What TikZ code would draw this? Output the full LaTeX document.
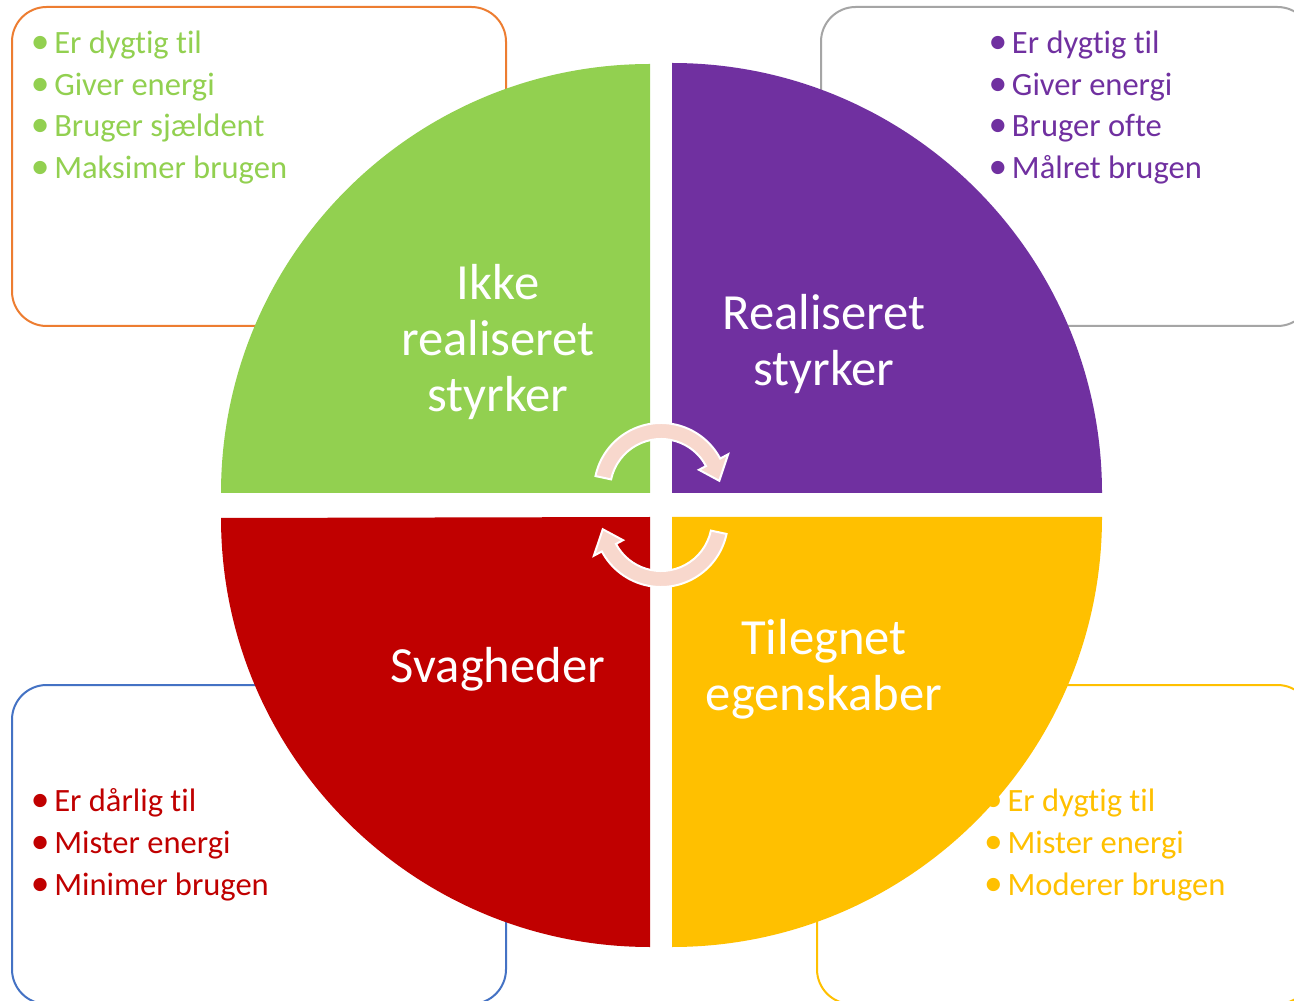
\documentclass[tikz,border=0pt]{standalone}
\usepackage{fontspec}
\setmainfont{Carlito}[Ligatures=NoCommon]
\usetikzlibrary{calc}
\definecolor{cgreen}{HTML}{92D050}
\definecolor{cpurple}{HTML}{7030A0}
\definecolor{cred}{HTML}{C00000}
\definecolor{cyellow}{HTML}{FFC000}
\definecolor{corange}{HTML}{ED7D31}
\definecolor{cgray}{HTML}{A5A5A5}
\definecolor{cblue}{HTML}{4472C4}
\definecolor{cpink}{HTML}{F8D8CD}
% list bullet: slightly enlarged dot, then a fixed gap to the text
\newcommand\bulletmark{\makebox[15pt][l]{\hspace{-2.5pt}\scalebox{1.15}{\textbullet}}}
\begin{document}
\begin{tikzpicture}[x=0.75pt,y=0.75pt,
  frame/.style={line width=1.5pt, rounded corners=26pt},
  lbl/.style={text=white, inner sep=0pt, anchor=base, font=\fontsize{38}{42}\selectfont},
  lst/.style={inner sep=0pt, anchor=base west, font=\fontsize{24.4}{31.35}\selectfont},
  turn/.style={fill=cpink, draw=white, line width=1.5pt, line join=miter}]
\useasboundingbox (0,0) rectangle (1294,1000);
\clip (0,0) rectangle (1294,1000);
\fill[white] (0,0) rectangle (1294,1000);

% frames behind the circle
\draw[frame, draw=corange] (12,674) rectangle (506,993);
\draw[frame, draw=cgray]   (821,674) rectangle (1312,993);
\draw[frame, draw=cblue]   (12,-4) rectangle (506,315);
\draw[frame, draw=cyellow] (817,-4) rectangle (1312,315);

% the four quarter discs
\fill[cgreen]  (650,507) -- (221,507) arc (180:90:429) -- cycle;
\fill[cpurple] (672,507) -- (672,937) arc (90:0:430) -- cycle;
\fill[cred]    (650,483) -- (650,53) arc (270:180:429) -- cycle;
\fill[cyellow] (672,483) -- (1102,483) arc (0:-90:430) -- cycle;

% bullet lists
\node[lst, text=cgreen] (ltl) at (34,946.7) {\begin{tabular}[t]{@{}l@{}}
  \bulletmark Er dygtig til\\ \bulletmark Giver energi\\ \bulletmark Bruger sjældent\\ \bulletmark Maksimer brugen\end{tabular}};
\node[lst, text=cpurple] (ltr) at (991.7,946.7) {\begin{tabular}[t]{@{}l@{}}
  \bulletmark Er dygtig til\\ \bulletmark Giver energi\\ \bulletmark Bruger ofte\\ \bulletmark Målret brugen\end{tabular}};
\node[lst, text=cred] (lbl) at (34,188.3) {\begin{tabular}[t]{@{}l@{}}
  \bulletmark Er dårlig til\\ \bulletmark Mister energi\\ \bulletmark Minimer brugen\end{tabular}};
\node[lst, text=cyellow] (lbr) at (987.3,188.3) {\begin{tabular}[t]{@{}l@{}}
  \bulletmark Er dygtig til\\ \bulletmark Mister energi\\ \bulletmark Moderer brugen\end{tabular}};

% quadrant titles
\node[lbl] (qg) at (498,700) {\begin{tabular}[t]{@{}c@{}}Ikke\\realiseret\\styrker\end{tabular}};
\node[lbl] (qp) at (824,670) {\begin{tabular}[t]{@{}c@{}}Realiseret\\styrker\end{tabular}};
\node[lbl] (qr) at (498,318) {\begin{tabular}[t]{@{}c@{}}Svagheder\end{tabular}};
\node[lbl] (qy) at (824,346) {\begin{tabular}[t]{@{}c@{}}Tilegnet\\egenskaber\end{tabular}};

% circular arrows in the middle
\coordinate (ta) at (661,510);
\coordinate (ba) at (661,480);
\draw[turn] ($(ta)+(168:67)$) arc (168:28:67) -- ($(ta)+(28:76)$) -- ($(ta)+(9:59)$)
  -- ($(ta)+(28:43)$) -- ($(ta)+(28:51)$) arc (28:168:51) -- cycle;
\draw[turn] ($(ba)+(348:67)$) arc (348:208:67) -- ($(ba)+(208:76)$) -- ($(ba)+(189:59)$)
  -- ($(ba)+(208:43)$) -- ($(ba)+(208:51)$) arc (208:348:51) -- cycle;
\end{tikzpicture}
\end{document}
